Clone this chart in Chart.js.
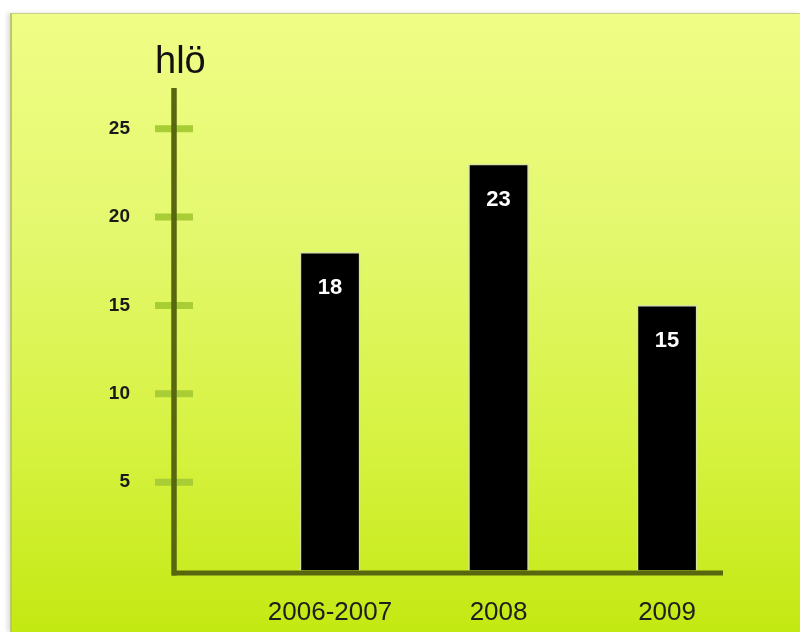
<!DOCTYPE html>
<html>
<head>
<meta charset="utf-8">
<script src="https://cdn.jsdelivr.net/npm/chart.js@4.4.1/dist/chart.umd.min.js"></script>
<style>
  html, body { margin: 0; padding: 0; background: #ffffff; width: 800px; height: 632px; overflow: hidden; }
  #panel {
    position: absolute; left: 10px; top: 13px; right: 0; bottom: 0;
    background: linear-gradient(to bottom, #f0fd86 0%, #e4f86e 35%, #d6f240 70%, #c3e912 100%);
    border-top: 1px solid #c9cf82; border-left: 2px solid #bcc672;
    box-shadow: -3px 0 4px rgba(0,0,0,0.12);
  }
  #c { position: absolute; left: 0; top: 0; }
</style>
</head>
<body>
<div id="panel"></div>
<canvas id="c" width="800" height="632"></canvas>
<script>
const categories = ['2006-2007', '2008', '2009'];
const values = [18, 23, 15];
const yTickValues = [5, 10, 15, 20, 25];
const yUnitLabel = 'hlö';

const FONT = '"Liberation Sans", Arial, Helvetica, sans-serif';

const chartDecor = {
  id: 'chartDecor',
  beforeDatasetsDraw(chart) {
    const ctx = chart.ctx;
    const { left, right, top, bottom } = chart.chartArea;
    const y = chart.scales.y;
    ctx.save();
    // tick marks crossing the axis
    ctx.strokeStyle = '#a9cd34';
    ctx.lineWidth = 7;
    yTickValues.forEach(v => {
      const py = y.getPixelForValue(v);
      ctx.beginPath();
      ctx.moveTo(left - 19, py);
      ctx.lineTo(left + 19, py);
      ctx.stroke();
    });
    // axis lines
    ctx.strokeStyle = '#58660f';
    ctx.lineWidth = 5.5;
    ctx.lineCap = 'butt';
    ctx.beginPath();
    ctx.moveTo(left, top);
    ctx.lineTo(left, bottom + 5);
    ctx.stroke();
    ctx.lineWidth = 5;
    ctx.beginPath();
    ctx.moveTo(left - 2, bottom + 2.5);
    ctx.lineTo(right, bottom + 2.5);
    ctx.stroke();
    // unit label
    ctx.fillStyle = '#111111';
    ctx.font = '38px ' + FONT;
    ctx.textAlign = 'left';
    ctx.textBaseline = 'alphabetic';
    ctx.fillText(yUnitLabel, left - 19, 73);
    ctx.restore();
  },
  afterDatasetsDraw(chart) {
    const ctx = chart.ctx;
    const meta = chart.getDatasetMeta(0);
    ctx.save();
    ctx.fillStyle = '#ffffff';
    ctx.font = 'bold 22px ' + FONT;
    ctx.textAlign = 'center';
    ctx.textBaseline = 'middle';
    meta.data.forEach((bar, i) => {
      ctx.fillText(String(values[i]), bar.x, bar.y + 36);
    });
    ctx.restore();
  }
};

new Chart(document.getElementById('c'), {
  type: 'bar',
  data: {
    datasets: [{
      data: values.map((v, i) => ({ x: i + 1, y: v })),
      backgroundColor: '#000000',
      borderColor: 'rgba(214,226,170,0.95)',
      borderWidth: 1.5,
      barThickness: 60
    }]
  },
  options: {
    responsive: false,
    animation: false,
    layout: { padding: { top: 88, right: 77, bottom: 0, left: 0 } },
    plugins: { legend: { display: false }, tooltip: { enabled: false }, title: { display: false } },
    scales: {
      x: {
        type: 'linear',
        offset: false,
        min: 0.074,
        max: 3.332,
        grid: { display: false, offset: false },
        border: { display: false },
        afterBuildTicks(scale) { scale.ticks = categories.map((c, i) => ({ value: i + 1 })); },
        afterFit(scale) { scale.height = 61.5; },
        ticks: {
          autoSkip: false,
          maxRotation: 0,
          padding: 19,
          color: '#1e1e1e',
          font: { family: FONT, size: 26 },
          callback: (v) => categories[Math.round(v) - 1] ?? ''
        }
      },
      y: {
        type: 'linear',
        min: 0,
        max: 27.3,
        grid: { display: false },
        border: { display: false },
        afterBuildTicks(scale) { scale.ticks = yTickValues.map(v => ({ value: v })); },
        afterFit(scale) { scale.width = 174; },
        ticks: {
          padding: 36,
          color: '#1a1a1a',
          font: { family: FONT, size: 19, weight: 'bold' }
        }
      }
    }
  },
  plugins: [chartDecor]
});
</script>
</body>
</html>
